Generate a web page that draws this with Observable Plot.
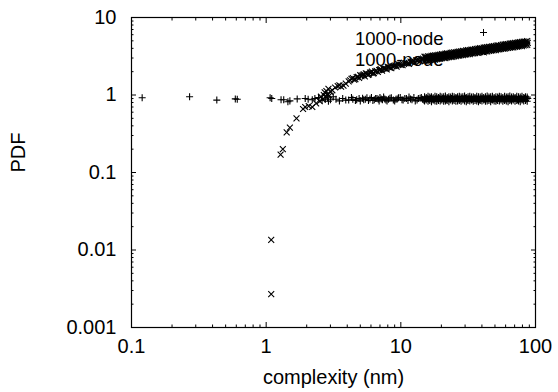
<!DOCTYPE html>
<html><head><meta charset="utf-8">
<script src="https://cdn.jsdelivr.net/npm/d3@7"></script>
<script src="https://cdn.jsdelivr.net/npm/@observablehq/plot@0.6"></script>
<style>html,body{margin:0;padding:0;background:#fff} svg{display:block}</style>
</head><body><div id="chart"></div>
<script>
const seriesName = "1000-node";
const xLabel = "complexity (nm)";
const yLabel = "PDF";
const xTicks = [0.1, 1, 10, 100];
const yTicks = [0.001, 0.01, 0.1, 1, 10];

// series "+" (flat ~0.9), sparse part
const plusX = [0.12, 0.27, 0.43, 0.59, 0.61, 1.07, 1.1, 1.29, 1.35, 1.45, 1.5, 1.7, 1.95, 2.05, 2.2, 2.3, 2.45, 2.6, 2.75, 2.85, 2.9, 3.0, 3.15, 3.3, 3.5, 3.7, 3.9, 4.4, 4.6, 4.9, 5.3, 5.6, 5.9, 6.2, 6.5, 6.8, 7.0, 7.3, 7.6, 7.9, 8.3, 8.8, 9.2, 9.6, 10.2, 10.7, 11.3, 11.8, 12.5, 13.2, 13.9, 14.5];
const plusY = [0.92, 0.95, 0.86, 0.89, 0.88, 0.92, 0.9, 0.87, 0.87, 0.82, 0.84, 0.89, 0.9, 0.88, 0.87, 0.9, 0.93, 0.86, 0.88, 0.92, 0.83, 0.87, 0.95, 0.88, 0.84, 0.9, 0.86, 0.88, 0.85, 0.9, 0.87, 0.92, 0.89, 0.85, 0.9, 0.88, 0.93, 0.87, 0.89, 0.84, 0.91, 0.86, 0.88, 0.92, 0.87, 0.9, 0.85, 0.89, 0.93, 0.86, 0.91, 0.88];
const plusX2 = [4.1, 4.3, 4.7, 5.0, 5.2, 5.45, 5.75, 6.05, 6.35, 6.65, 6.9, 7.15, 7.45, 7.75, 8.1, 8.5, 9.0, 9.4, 9.9, 10.4, 11.0, 11.5, 12.1, 12.8, 13.5, 14.2, 14.8];
const plusY2 = [0.86, 0.93, 0.87, 0.84, 0.91, 0.88, 0.85, 0.93, 0.87, 0.9, 0.84, 0.89, 0.94, 0.86, 0.88, 0.92, 0.84, 0.89, 0.93, 0.86, 0.9, 0.94, 0.87, 0.84, 0.9, 0.93, 0.86];

// series "x" (rising), sparse part
const timesX = [1.09, 1.09, 1.28, 1.33, 1.42, 1.5, 1.68, 1.88, 1.95, 2.07, 2.2, 2.35, 2.5, 2.55, 2.62, 2.68, 2.72, 2.78, 2.8, 2.85, 2.9, 2.95, 3.0, 3.1, 3.25, 3.4, 3.5, 3.6, 3.75, 3.9, 4.2, 4.4, 4.6, 4.8, 5.0, 5.1, 5.3, 5.5, 5.7, 5.9, 6.1, 6.3, 6.6, 6.9, 7.1, 7.4, 7.7, 8.0, 8.3, 8.7, 9.1, 9.5, 10.0, 10.6, 11.2, 11.8, 12.4, 13.0, 13.6, 14.2];
const timesY = [0.0135, 0.0027, 0.17, 0.2, 0.33, 0.38, 0.5, 0.66, 0.7, 0.72, 0.7, 0.78, 0.83, 0.95, 0.88, 1.0, 1.08, 0.96, 1.12, 1.02, 1.2, 0.98, 1.1, 1.15, 1.25, 1.3, 1.33, 1.28, 1.32, 1.4, 1.55, 1.65, 1.6, 1.72, 1.8, 1.75, 1.85, 1.9, 1.82, 1.95, 2.0, 1.92, 2.05, 2.1, 2.15, 2.2, 2.18, 2.3, 2.25, 2.35, 2.4, 2.5, 2.45, 2.6, 2.55, 2.7, 2.75, 2.8, 2.85, 2.9];
const timesX2 = [4.1, 4.3, 4.5, 4.7, 4.9, 5.2, 5.4, 5.6, 5.8, 6.0, 6.2, 6.45, 6.75, 7.0, 7.25, 7.55, 7.85, 8.15, 8.5, 8.9, 9.3, 9.75, 10.3, 10.9, 11.5, 12.1, 12.7, 13.3, 13.9, 14.6];
const timesY2 = [1.5, 1.62, 1.58, 1.7, 1.66, 1.8, 1.74, 1.88, 1.84, 1.95, 1.9, 2.02, 1.98, 2.12, 2.06, 2.2, 2.14, 2.28, 2.22, 2.38, 2.32, 2.47, 2.42, 2.58, 2.52, 2.68, 2.62, 2.8, 2.74, 2.95];

// dense region (15 .. 87)
const denseX = [15.0, 15.45, 15.92, 16.4, 16.89, 17.4, 17.93, 18.47, 19.03, 19.6, 20.19, 20.8, 21.43, 22.08, 22.74, 23.43, 24.14, 24.87, 25.62, 26.39, 27.19, 28.01, 28.86, 29.73, 30.63, 31.55, 32.5, 33.49, 34.5, 35.54, 36.61, 37.72, 38.86, 40.03, 41.24, 42.49, 43.77, 45.09, 46.45, 47.86, 49.3, 50.79, 52.33, 53.91, 55.54, 57.21, 58.94, 60.72, 62.56, 64.45, 66.39, 68.4, 70.46, 72.59, 74.78, 77.04, 79.37, 81.76, 84.23, 86.77];
const denseXMid = [15.22, 15.68, 16.16, 16.64, 17.14, 17.66, 18.2, 18.75, 19.31, 19.9, 20.5, 21.11, 21.75, 22.41, 23.08, 23.78, 24.5, 25.24, 26.0, 26.79, 27.6, 28.43, 29.29, 30.18, 31.09, 32.02, 32.99, 34.0, 35.02, 36.07, 37.16, 38.29, 39.44, 40.63, 41.86, 43.13, 44.43, 45.77, 47.15, 48.58, 50.04, 51.56, 53.12, 54.72, 56.37, 58.07, 59.83, 61.64, 63.5, 65.42, 67.39, 69.43, 71.52, 73.68, 75.91, 78.2, 80.56, 82.99, 85.5, 87.6];
const timesDenseHi = [3.12, 3.10, 3.16, 3.14, 3.20, 3.22, 3.25, 3.24, 3.30, 3.31, 3.36, 3.35, 3.41, 3.44, 3.43, 3.50, 3.52, 3.55, 3.54, 3.61, 3.64, 3.66, 3.70, 3.69, 3.76, 3.79, 3.81, 3.86, 3.84, 3.92, 3.95, 3.98, 4.02, 4.01, 4.08, 4.11, 4.14, 4.19, 4.17, 4.25, 4.28, 4.31, 4.36, 4.35, 4.42, 4.46, 4.49, 4.54, 4.52, 4.60, 4.64, 4.67, 4.72, 4.70, 4.78, 4.83, 4.86, 4.90, 4.88, 4.96];
const timesDenseMid = [2.95, 2.97, 3.0, 3.0, 3.04, 3.06, 3.07, 3.11, 3.12, 3.15, 3.19, 3.18, 3.23, 3.26, 3.27, 3.3, 3.33, 3.36, 3.38, 3.42, 3.43, 3.48, 3.5, 3.52, 3.56, 3.58, 3.6, 3.66, 3.66, 3.71, 3.74, 3.75, 3.8, 3.82, 3.86, 3.89, 3.9, 3.96, 3.97, 4.02, 4.05, 4.06, 4.12, 4.13, 4.18, 4.22, 4.23, 4.29, 4.3, 4.35, 4.39, 4.4, 4.46, 4.47, 4.52, 4.56, 4.58, 4.64, 4.65, 4.7];
const timesDenseLo = [2.74, 2.78, 2.76, 2.81, 2.83, 2.86, 2.85, 2.91, 2.92, 2.95, 2.98, 3.01, 3.00, 3.06, 3.08, 3.11, 3.10, 3.16, 3.18, 3.21, 3.23, 3.27, 3.26, 3.32, 3.34, 3.37, 3.36, 3.43, 3.45, 3.48, 3.51, 3.50, 3.57, 3.59, 3.62, 3.65, 3.64, 3.71, 3.74, 3.77, 3.80, 3.79, 3.87, 3.89, 3.92, 3.96, 3.95, 4.03, 4.05, 4.09, 4.12, 4.11, 4.19, 4.21, 4.25, 4.29, 4.28, 4.36, 4.39, 4.43];
const plusDenseHi = [0.95, 0.93, 0.96, 0.94, 0.95, 0.92, 0.96, 0.95, 0.93, 0.96, 0.94, 0.95, 0.97, 0.93, 0.95, 0.94, 0.96, 0.95, 0.93, 0.95, 0.96, 0.94, 0.95, 0.97, 0.93, 0.95, 0.96, 0.94, 0.95, 0.93, 0.96, 0.95, 0.94, 0.96, 0.93, 0.95, 0.97, 0.94, 0.95, 0.96, 0.93, 0.95, 0.94, 0.96, 0.95, 0.93, 0.96, 0.94, 0.95, 0.97, 0.94, 0.95, 0.93, 0.96, 0.95, 0.94, 0.96, 0.93, 0.95, 0.94];
const plusDenseMid = [0.89, 0.9, 0.88, 0.91, 0.89, 0.87, 0.9, 0.89, 0.91, 0.88, 0.9, 0.89, 0.87, 0.91, 0.89, 0.9, 0.88, 0.9, 0.91, 0.89, 0.88, 0.9, 0.89, 0.91, 0.87, 0.9, 0.89, 0.88, 0.91, 0.9, 0.89, 0.87, 0.9, 0.91, 0.88, 0.89, 0.9, 0.91, 0.88, 0.89, 0.9, 0.87, 0.91, 0.89, 0.9, 0.88, 0.89, 0.91, 0.9, 0.88, 0.89, 0.9, 0.91, 0.87, 0.89, 0.9, 0.88, 0.91, 0.89, 0.9];
const plusDenseLo = [0.84, 0.86, 0.83, 0.85, 0.82, 0.86, 0.84, 0.83, 0.85, 0.84, 0.86, 0.83, 0.84, 0.85, 0.82, 0.86, 0.84, 0.85, 0.83, 0.84, 0.85, 0.83, 0.86, 0.84, 0.82, 0.85, 0.84, 0.86, 0.83, 0.85, 0.84, 0.82, 0.85, 0.84, 0.86, 0.83, 0.84, 0.85, 0.82, 0.86, 0.84, 0.83, 0.85, 0.84, 0.86, 0.83, 0.85, 0.84, 0.82, 0.85, 0.84, 0.86, 0.83, 0.85, 0.84, 0.82, 0.86, 0.84, 0.85, 0.83];

const pts = (xs, ys) => xs.map((x, i) => ({x, y: ys[i]}));
const plusPts = [...pts(plusX, plusY), ...pts(plusX2, plusY2), ...pts(denseX, plusDenseHi), ...pts(denseXMid, plusDenseMid), ...pts(denseX, plusDenseLo)];
const timesPts = [...pts(timesX, timesY), ...pts(timesX2, timesY2), ...pts(denseX, timesDenseHi), ...pts(denseXMid, timesDenseMid), ...pts(denseX, timesDenseLo)];

const minorOf = (decades) => decades.flatMap(d => [2,3,4,5,6,7,8,9].map(k => +(d * k).toPrecision(3)));
const xMinor = minorOf([0.1, 1, 10]);
const yMinor = minorOf([0.001, 0.01, 0.1, 1]);

const blank = () => "";
const MAJ = 5, MIN = 2.5;
const tickMarks = [];
for (const [ticks, len] of [[xTicks, MAJ], [xMinor, MIN]]) {
  tickMarks.push(Plot.axisX(ticks, {anchor: "bottom", tickSize: len, dy: -len, tickFormat: blank, label: null}));
  tickMarks.push(Plot.axisX(ticks, {anchor: "top", tickSize: len, dy: len, tickFormat: blank, label: null}));
}
for (const [ticks, len] of [[yTicks, MAJ], [yMinor, MIN]]) {
  tickMarks.push(Plot.axisY(ticks, {anchor: "left", tickSize: len, dx: len, tickFormat: blank, label: null}));
  tickMarks.push(Plot.axisY(ticks, {anchor: "right", tickSize: len, dx: -len, tickFormat: blank, label: null}));
}

const chart = Plot.plot({
  width: 558, height: 392,
  marginLeft: 131, marginRight: 23, marginTop: 17, marginBottom: 65,
  style: {fontFamily: "'Liberation Sans', Arial, Helvetica, sans-serif", fontSize: "20px", background: "#fff", color: "#000"},
  x: {type: "log", domain: [0.1, 100], axis: null},
  y: {type: "log", domain: [0.001, 10], axis: null},
  marks: [
    Plot.axisX(xTicks, {anchor: "bottom", tickSize: 0, tickPadding: 11, tickFormat: d => String(d), label: null}),
    Plot.axisY(yTicks, {anchor: "left", tickSize: 0, tickPadding: 15, tickFormat: d => String(d), label: null}),
    ...tickMarks,
    Plot.text([xLabel], {frameAnchor: "bottom", dy: 56, text: d => d}),
    Plot.text([yLabel], {frameAnchor: "left", dx: -113, rotate: -90, text: d => d}),
    Plot.text([seriesName], {frameAnchor: "top-right", dx: -92, dy: 14, textAnchor: "end", fontSize: 18.5, text: d => d}),
    Plot.text([seriesName], {frameAnchor: "top-right", dx: -92, dy: 35, textAnchor: "end", fontSize: 18.5, text: d => d}),
    Plot.dot([0], {frameAnchor: "top-right", dx: -52, dy: 15, symbol: "plus", r: 2.4, stroke: "#000", strokeWidth: 1}),
    Plot.dot([0], {frameAnchor: "top-right", dx: -52, dy: 35, symbol: "times", r: 2.8, stroke: "#000", strokeWidth: 1}),
    Plot.dot(plusPts, {x: "x", y: "y", symbol: "plus", r: 2.4, stroke: "#000", strokeWidth: 1.1}),
    Plot.dot(timesPts, {x: "x", y: "y", symbol: "times", r: 2.8, stroke: "#000", strokeWidth: 1.1}),
    Plot.frame({stroke: "#000", strokeWidth: 1.2})
  ]
});
document.getElementById("chart").appendChild(chart);
</script>
</body></html>
